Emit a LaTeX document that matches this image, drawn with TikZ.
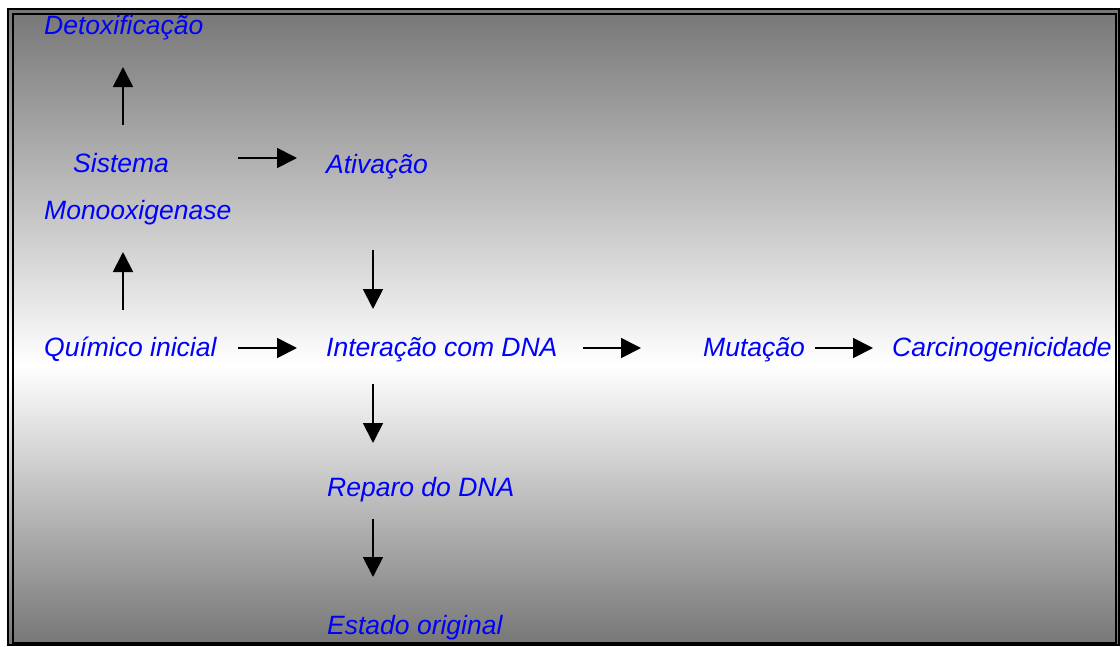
\documentclass[tikz,border=0pt]{standalone}
\usepackage{fontspec}
\setmainfont{Liberation Sans}
\usetikzlibrary{arrows.meta}
\definecolor{bggrey}{RGB}{118,118,118}
\definecolor{txtblue}{RGB}{0,0,255}
\pgfdeclareverticalshading{bgshade}{100bp}{color(0bp)=(bggrey); color(25bp)=(bggrey); color(47bp)=(white); color(75bp)=(bggrey); color(100bp)=(bggrey)}
\tikzset{
  lbl/.style={anchor=base west, inner sep=0pt, text=txtblue, font=\fontsize{26.5}{30}\selectfont\itshape},
  conn/.style={-{Triangle[length=20pt,width=20pt]}, line width=1.8pt, black},
  frame/.style={draw=black}
}
\begin{document}
\begin{tikzpicture}[x=1pt,y=-1pt]
\useasboundingbox (0,0) rectangle (1120,646);
\shade[shading=bgshade] (8,9) rectangle (1119,645);
\draw[frame, line width=2.5pt] (8,9) rectangle (1119,645);
\draw[frame, line width=2pt] (13,14) rectangle (1116,643);

\node[lbl] (detox) at (44,34) {Detoxificação};
\node[lbl] (sistema) at (73,172) {Sistema};
\node[lbl] (mono) at (44,219) {Monooxigenase};
\node[lbl] (ativ) at (326,173) {Ativação};
\node[lbl] (quim) at (44,356) {Químico inicial};
\node[lbl] (inter) at (326,356) {Interação com DNA};
\node[lbl] (mut) at (703,356) {Mutação};
\node[lbl] (carc) at (892,356) {Carcinogenicidade};
\node[lbl] (rep) at (327,496) {Reparo do DNA};
\node[lbl] (est) at (327,634) {Estado original};

\coordinate (a1s) at (123,125); \coordinate (a1e) at (123,67);
\coordinate (a2s) at (238,158); \coordinate (a2e) at (297,158);
\coordinate (a3s) at (123,310); \coordinate (a3e) at (123,252);
\coordinate (a4s) at (373,250); \coordinate (a4e) at (373,309);
\coordinate (a5s) at (238,348); \coordinate (a5e) at (297,348);
\coordinate (a6s) at (583,348); \coordinate (a6e) at (641,348);
\coordinate (a7s) at (815,348); \coordinate (a7e) at (873,348);
\coordinate (a8s) at (373,384); \coordinate (a8e) at (373,443);
\coordinate (a9s) at (373,519); \coordinate (a9e) at (373,577);

\draw[conn] (a1s) -- (a1e);
\draw[conn] (a2s) -- (a2e);
\draw[conn] (a3s) -- (a3e);
\draw[conn] (a4s) -- (a4e);
\draw[conn] (a5s) -- (a5e);
\draw[conn] (a6s) -- (a6e);
\draw[conn] (a7s) -- (a7e);
\draw[conn] (a8s) -- (a8e);
\draw[conn] (a9s) -- (a9e);
\end{tikzpicture}
\end{document}
